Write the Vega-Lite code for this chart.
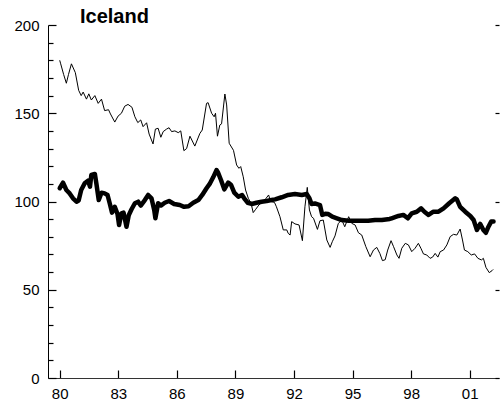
{
  "$schema": "https://vega.github.io/schema/vega-lite/v6.json",
  "width": 451,
  "height": 353,
  "autosize": {"type": "none"},
  "padding": {"left": 48, "top": 25, "right": 1, "bottom": 30},
  "background": "white",
  "config": {"view": {"stroke": null}, "font": "Liberation Sans"},
  "title": {"text": "Iceland", "anchor": "start", "frame": "group", "dx": 32, "dy": 28, "fontSize": 20, "fontWeight": "bold", "font": "Liberation Sans", "color": "black", "baseline": "alphabetic", "offset": 3},
  "datasets": {
    "thin": [
      {"t":1980.0,"v":180},{"t":1980.05,"v":178},{"t":1980.2,"v":172},{"t":1980.34,"v":167},{"t":1980.45,"v":172},{"t":1980.6,"v":178},{"t":1980.8,"v":173},{"t":1980.97,"v":163},{"t":1981.1,"v":160},{"t":1981.2,"v":162},{"t":1981.37,"v":158},{"t":1981.49,"v":161},{"t":1981.62,"v":157.5},{"t":1981.8,"v":160},{"t":1981.97,"v":155.6},{"t":1982.14,"v":158},{"t":1982.3,"v":151.5},{"t":1982.5,"v":152},{"t":1982.6,"v":149.6},{"t":1982.82,"v":145},{"t":1982.99,"v":148.4},{"t":1983.16,"v":150},{"t":1983.33,"v":154},{"t":1983.5,"v":155},{"t":1983.7,"v":153.4},{"t":1983.85,"v":148},{"t":1984.0,"v":144.7},{"t":1984.15,"v":146.2},{"t":1984.27,"v":142.4},{"t":1984.45,"v":144.6},{"t":1984.58,"v":138.2},{"t":1984.78,"v":132.6},{"t":1984.9,"v":141},{"t":1985.04,"v":141.5},{"t":1985.18,"v":136.4},{"t":1985.3,"v":139.6},{"t":1985.47,"v":141},{"t":1985.6,"v":141.8},{"t":1985.73,"v":139.6},{"t":1985.9,"v":140},{"t":1986.07,"v":139},{"t":1986.2,"v":140},{"t":1986.36,"v":128.8},{"t":1986.5,"v":130},{"t":1986.67,"v":137},{"t":1986.92,"v":131.4},{"t":1987.18,"v":138.6},{"t":1987.3,"v":140.5},{"t":1987.52,"v":155.6},{"t":1987.6,"v":156},{"t":1987.78,"v":150},{"t":1987.91,"v":148},{"t":1987.98,"v":150},{"t":1988.08,"v":137},{"t":1988.2,"v":143.3},{"t":1988.29,"v":144},{"t":1988.46,"v":160.9},{"t":1988.55,"v":154.7},{"t":1988.68,"v":133},{"t":1988.9,"v":129},{"t":1989.06,"v":120.7},{"t":1989.18,"v":118.8},{"t":1989.27,"v":119.8},{"t":1989.4,"v":114},{"t":1989.52,"v":106.5},{"t":1989.66,"v":101.8},{"t":1989.8,"v":99},{"t":1989.91,"v":93.7},{"t":1990.04,"v":95.6},{"t":1990.2,"v":98},{"t":1990.5,"v":100.8},{"t":1990.7,"v":103.7},{"t":1990.8,"v":100},{"t":1991.0,"v":99.5},{"t":1991.1,"v":97},{"t":1991.28,"v":91.4},{"t":1991.45,"v":83.9},{"t":1991.63,"v":83.9},{"t":1991.7,"v":82},{"t":1991.8,"v":81},{"t":1991.88,"v":88.6},{"t":1992.05,"v":87.3},{"t":1992.26,"v":86.7},{"t":1992.43,"v":77.8},{"t":1992.56,"v":97},{"t":1992.68,"v":108},{"t":1992.79,"v":95.2},{"t":1992.9,"v":91.4},{"t":1993.0,"v":90.5},{"t":1993.2,"v":84.2},{"t":1993.33,"v":89.1},{"t":1993.5,"v":89.5},{"t":1993.68,"v":78.2},{"t":1993.85,"v":74},{"t":1993.96,"v":77.2},{"t":1994.1,"v":80.5},{"t":1994.27,"v":87.6},{"t":1994.45,"v":89.5},{"t":1994.6,"v":85.7},{"t":1994.8,"v":91.4},{"t":1994.96,"v":87.6},{"t":1995.13,"v":86.7},{"t":1995.3,"v":82.3},{"t":1995.47,"v":81},{"t":1995.68,"v":74.4},{"t":1995.9,"v":68.7},{"t":1996.07,"v":72.5},{"t":1996.24,"v":74},{"t":1996.4,"v":70.5},{"t":1996.53,"v":66.5},{"t":1996.67,"v":67},{"t":1996.8,"v":72.5},{"t":1996.97,"v":77.8},{"t":1997.1,"v":74.4},{"t":1997.27,"v":69.7},{"t":1997.38,"v":67.8},{"t":1997.52,"v":73.5},{"t":1997.7,"v":76.3},{"t":1997.86,"v":75.4},{"t":1998.03,"v":71.6},{"t":1998.2,"v":73.5},{"t":1998.37,"v":76.3},{"t":1998.5,"v":73.5},{"t":1998.63,"v":70.3},{"t":1998.8,"v":69.7},{"t":1998.97,"v":67.8},{"t":1999.1,"v":68.5},{"t":1999.23,"v":70.6},{"t":1999.37,"v":68.5},{"t":1999.49,"v":71.6},{"t":1999.66,"v":72.5},{"t":1999.83,"v":75.4},{"t":2000.0,"v":80.1},{"t":2000.17,"v":81.4},{"t":2000.34,"v":81},{"t":2000.51,"v":84.4},{"t":2000.63,"v":78.2},{"t":2000.73,"v":72.5},{"t":2000.9,"v":71.6},{"t":2001.08,"v":69.7},{"t":2001.25,"v":70.3},{"t":2001.42,"v":67.8},{"t":2001.6,"v":66.9},{"t":2001.7,"v":67.8},{"t":2001.83,"v":62.7},{"t":2002.0,"v":59.7},{"t":2002.14,"v":60.8},{"t":2002.2,"v":61.5}
    ],
    "thick": [
      {"t":1980.0,"v":107.5},{"t":1980.17,"v":110.7},{"t":1980.34,"v":106.5},{"t":1980.51,"v":104.6},{"t":1980.68,"v":101.8},{"t":1980.86,"v":99.9},{"t":1980.97,"v":100.6},{"t":1981.1,"v":106.5},{"t":1981.28,"v":110.3},{"t":1981.45,"v":111.8},{"t":1981.55,"v":108.4},{"t":1981.62,"v":115},{"t":1981.8,"v":115.6},{"t":1981.88,"v":110},{"t":1982.0,"v":100.8},{"t":1982.14,"v":105},{"t":1982.3,"v":104.6},{"t":1982.45,"v":103.7},{"t":1982.56,"v":99},{"t":1982.68,"v":93.7},{"t":1982.82,"v":97},{"t":1982.96,"v":92.9},{"t":1983.04,"v":86.7},{"t":1983.16,"v":93.3},{"t":1983.27,"v":93.7},{"t":1983.42,"v":85.7},{"t":1983.54,"v":92.4},{"t":1983.68,"v":95.6},{"t":1983.85,"v":99},{"t":1984.02,"v":99.9},{"t":1984.15,"v":97.7},{"t":1984.36,"v":100.8},{"t":1984.53,"v":103.7},{"t":1984.7,"v":101.8},{"t":1984.84,"v":95.2},{"t":1984.9,"v":90.5},{"t":1985.04,"v":99},{"t":1985.18,"v":97.7},{"t":1985.38,"v":99.3},{"t":1985.6,"v":100.3},{"t":1985.86,"v":98.6},{"t":1986.15,"v":98},{"t":1986.37,"v":97},{"t":1986.6,"v":97.3},{"t":1986.84,"v":99.3},{"t":1987.1,"v":100.8},{"t":1987.3,"v":103.7},{"t":1987.52,"v":107.5},{"t":1987.7,"v":110.3},{"t":1987.86,"v":113.7},{"t":1988.03,"v":117.8},{"t":1988.1,"v":116.6},{"t":1988.26,"v":112.2},{"t":1988.43,"v":106.9},{"t":1988.63,"v":110.7},{"t":1988.77,"v":109.5},{"t":1988.94,"v":105},{"t":1989.15,"v":102.7},{"t":1989.34,"v":103.7},{"t":1989.49,"v":101.2},{"t":1989.63,"v":99.3},{"t":1989.83,"v":98.6},{"t":1990.08,"v":99.3},{"t":1990.34,"v":99.9},{"t":1990.6,"v":100.3},{"t":1990.85,"v":100.8},{"t":1991.03,"v":101.2},{"t":1991.37,"v":102.4},{"t":1991.7,"v":103.7},{"t":1992.05,"v":104.2},{"t":1992.4,"v":103.7},{"t":1992.65,"v":104.2},{"t":1992.79,"v":101.8},{"t":1992.9,"v":98.6},{"t":1993.07,"v":98.9},{"t":1993.33,"v":98},{"t":1993.45,"v":92.4},{"t":1993.6,"v":93},{"t":1993.76,"v":92.9},{"t":1993.96,"v":91.4},{"t":1994.2,"v":90.5},{"t":1994.45,"v":89.5},{"t":1994.8,"v":89.1},{"t":1995.13,"v":89.1},{"t":1995.47,"v":89.1},{"t":1995.8,"v":89.1},{"t":1996.15,"v":89.5},{"t":1996.5,"v":89.5},{"t":1996.9,"v":90.1},{"t":1997.0,"v":90.5},{"t":1997.35,"v":91.8},{"t":1997.6,"v":92.4},{"t":1997.83,"v":90.5},{"t":1998.03,"v":93.3},{"t":1998.29,"v":94.2},{"t":1998.51,"v":96.1},{"t":1998.68,"v":94.2},{"t":1998.89,"v":92.4},{"t":1999.14,"v":94.2},{"t":1999.4,"v":94.2},{"t":1999.66,"v":96.1},{"t":1999.95,"v":99},{"t":2000.26,"v":101.8},{"t":2000.34,"v":101.2},{"t":2000.51,"v":97},{"t":2000.77,"v":94.2},{"t":2001.03,"v":91.8},{"t":2001.2,"v":89.5},{"t":2001.37,"v":83.9},{"t":2001.54,"v":87.3},{"t":2001.7,"v":83.9},{"t":2001.83,"v":82.3},{"t":2001.96,"v":85.7},{"t":2002.1,"v":88.6},{"t":2002.22,"v":88.6}
    ]
  },
  "layer": [
    {
      "data": {"name": "thin"},
      "mark": {"type": "line", "color": "black", "strokeWidth": 1},
      "encoding": {
        "x": {"field": "t", "type": "quantitative",
          "scale": {"domain": [1979.4, 2002.5], "nice": false, "zero": false},
          "axis": {"orient": "bottom", "values": [1980,1983,1986,1989,1992,1995,1998,2001], "labelExpr": "slice('0' + (datum.value % 100), -2)", "ticks": true, "tickSize": -8, "tickWidth": 1.2, "tickColor": "black", "domainColor": "#333", "labelColor": "black", "labelFontSize": 15, "labelPadding": 16, "grid": false, "title": null}},
        "y": {"field": "v", "type": "quantitative",
          "scale": {"domain": [0, 200], "nice": false, "zero": false},
          "axis": {"orient": "left", "values": [0,10,20,30,40,50,60,70,80,90,100,110,120,130,140,150,160,170,180,190,200], "ticks": true, "tickSize": {"condition": {"test": "datum.value % 50 === 0", "value": -8}, "value": -5}, "tickWidth": 1.2, "labelExpr": "datum.value % 50 === 0 ? datum.label : ''", "tickColor": "black", "domainColor": "black", "labelColor": "black", "labelFontSize": 15, "labelPadding": 17, "grid": false, "title": null}}
      }
    },
    {
      "data": {"name": "thick"},
      "mark": {"type": "line", "color": "black", "strokeWidth": 4.5, "strokeJoin": "round", "strokeCap": "round"},
      "encoding": {
        "x": {"field": "t", "type": "quantitative", "scale": {"domain": [1979.4, 2002.5], "nice": false, "zero": false}},
        "y": {"field": "v", "type": "quantitative",
          "scale": {"domain": [0, 200], "nice": false, "zero": false},
          "axis": {"orient": "right", "values": [0,50,100,150,200], "ticks": true, "tickSize": -4, "tickWidth": 1.2, "tickColor": "black", "domain": false, "labels": false, "grid": false, "title": null}}
      }
    }
  ],
  "resolve": {"axis": {"y": "independent"}}
}
